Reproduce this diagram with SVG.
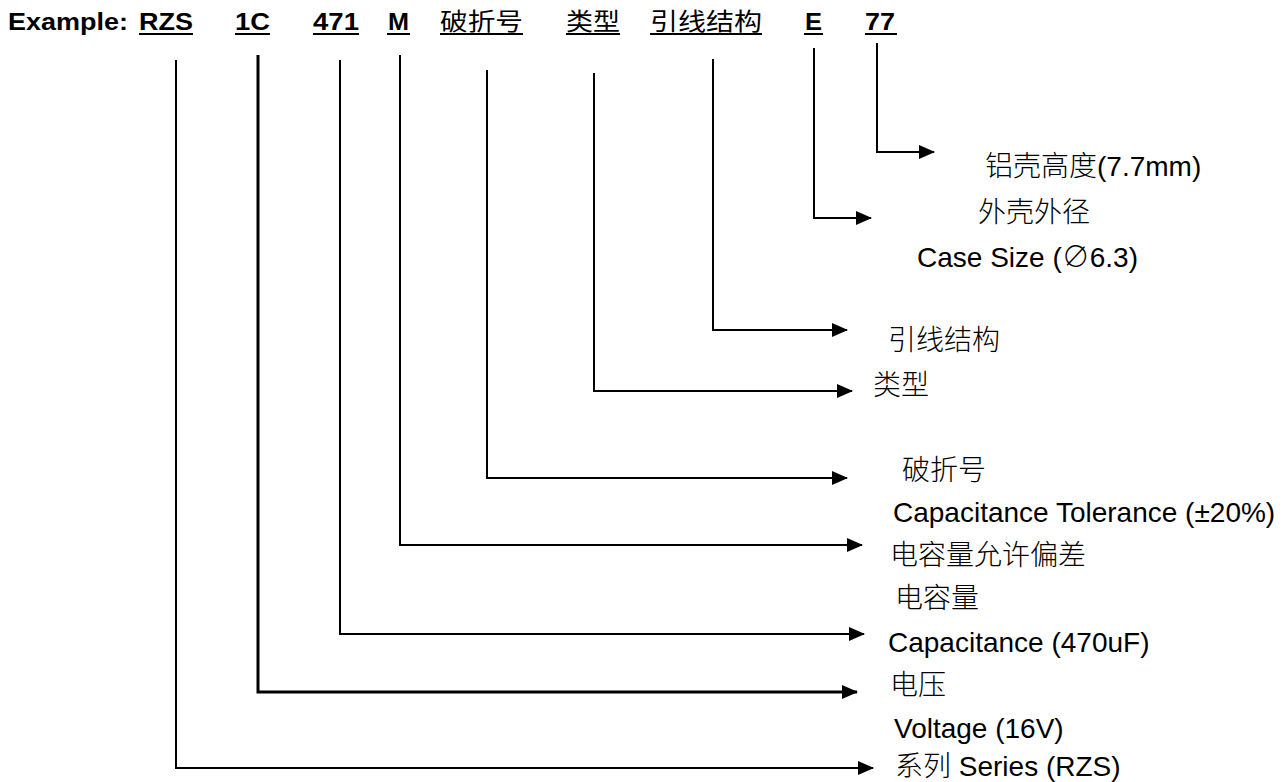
<svg xmlns="http://www.w3.org/2000/svg" width="1288" height="782" viewBox="0 0 1288 782">
<style>
.hd{font-family:"Liberation Sans","Noto Sans CJK SC",sans-serif;font-size:24px;font-weight:bold;fill:#000}
.hc{font-family:"Noto Sans CJK SC","Liberation Sans",sans-serif;font-size:24px;font-weight:normal;fill:#000}
.lb{font-family:"Liberation Sans","Noto Sans CJK SC",sans-serif;font-size:28px;font-weight:300;fill:#000}
.ul{stroke:#000;stroke-width:2}
.cn{fill:none;stroke:#000;stroke-width:2}
</style>
<defs>
<marker id="ah" markerUnits="userSpaceOnUse" markerWidth="16" markerHeight="14" refX="15" refY="7" orient="auto">
<path d="M0,0 L16,7 L0,14 z" fill="#000"/>
</marker>
</defs>
<rect width="1288" height="782" fill="#fff"/>
<g id="header">
<text class="hd" x="8" y="30" textLength="120" lengthAdjust="spacingAndGlyphs">Example:</text>
<g id="tok-rzs"><text class="hd" x="139" y="30" textLength="54" lengthAdjust="spacingAndGlyphs">RZS</text><line class="ul" x1="139" y1="34" x2="193" y2="34"/></g>
<g id="tok-1c"><text class="hd" x="235" y="30" textLength="35" lengthAdjust="spacingAndGlyphs">1C</text><line class="ul" x1="235" y1="34" x2="270" y2="34"/></g>
<g id="tok-471"><text class="hd" x="313" y="30" textLength="46" lengthAdjust="spacingAndGlyphs">471</text><line class="ul" x1="313" y1="34" x2="359" y2="34"/></g>
<g id="tok-m"><text class="hd" x="388" y="30" textLength="21" lengthAdjust="spacingAndGlyphs">M</text><line class="ul" x1="387" y1="34" x2="410" y2="34"/></g>
<g id="tok-pzh"><text class="hc" x="440" y="30" textLength="83" lengthAdjust="spacingAndGlyphs">破折号</text><line class="ul" x1="440" y1="34" x2="523" y2="34"/></g>
<g id="tok-lx"><text class="hc" x="566" y="30" textLength="54" lengthAdjust="spacingAndGlyphs">类型</text><line class="ul" x1="566" y1="34" x2="620" y2="34"/></g>
<g id="tok-yxjg"><text class="hc" x="650" y="30" textLength="112" lengthAdjust="spacingAndGlyphs">引线结构</text><line class="ul" x1="650" y1="34" x2="762" y2="34"/></g>
<g id="tok-e"><text class="hd" x="805" y="30" textLength="17" lengthAdjust="spacingAndGlyphs">E</text><line class="ul" x1="804" y1="34" x2="823" y2="34"/></g>
<g id="tok-77"><text class="hd" x="865" y="30" textLength="30" lengthAdjust="spacingAndGlyphs">77</text><line class="ul" x1="865" y1="34" x2="897" y2="34"/></g>
</g>
<g id="connectors">
<polyline class="cn" points="176,60 176,768 873,768" marker-end="url(#ah)"/>
<polyline class="cn" points="258,55 258,692 857,692" style="stroke-width:3" marker-end="url(#ah)"/>
<polyline class="cn" points="340,60 340,634 864,634" marker-end="url(#ah)"/>
<polyline class="cn" points="400,55 400,545 862,545" marker-end="url(#ah)"/>
<polyline class="cn" points="487,70 487,478 847,478" marker-end="url(#ah)"/>
<polyline class="cn" points="594,73 594,391 852,391" marker-end="url(#ah)"/>
<polyline class="cn" points="713,59 713,330 847,330" marker-end="url(#ah)"/>
<polyline class="cn" points="814,48 814,218 871,218" marker-end="url(#ah)"/>
<polyline class="cn" points="877,43 877,152 934,152" marker-end="url(#ah)"/>
</g>
<g id="lbl-height"><text class="lb" x="985" y="176">铝壳高度(7.7mm)</text></g>
<g id="lbl-case"><text class="lb" x="978" y="222">外壳外径</text><text class="lb" x="917" y="267">Case Size (∅6.3)</text></g>
<g id="lbl-lead"><text class="lb" x="888" y="350">引线结构</text></g>
<g id="lbl-type"><text class="lb" x="873" y="395">类型</text></g>
<g id="lbl-break"><text class="lb" x="902" y="480">破折号</text></g>
<g id="lbl-tol"><text class="lb" x="893" y="522">Capacitance Tolerance (±20%)</text><text class="lb" x="890" y="565">电容量允许偏差</text></g>
<g id="lbl-cap"><text class="lb" x="895" y="608">电容量</text><text class="lb" x="888" y="652">Capacitance (470uF)</text></g>
<g id="lbl-volt"><text class="lb" x="890" y="695">电压</text><text class="lb" x="894" y="738">Voltage (16V)</text></g>
<g id="lbl-series"><text class="lb" x="895" y="776">系列 Series (RZS)</text></g>
</svg>
